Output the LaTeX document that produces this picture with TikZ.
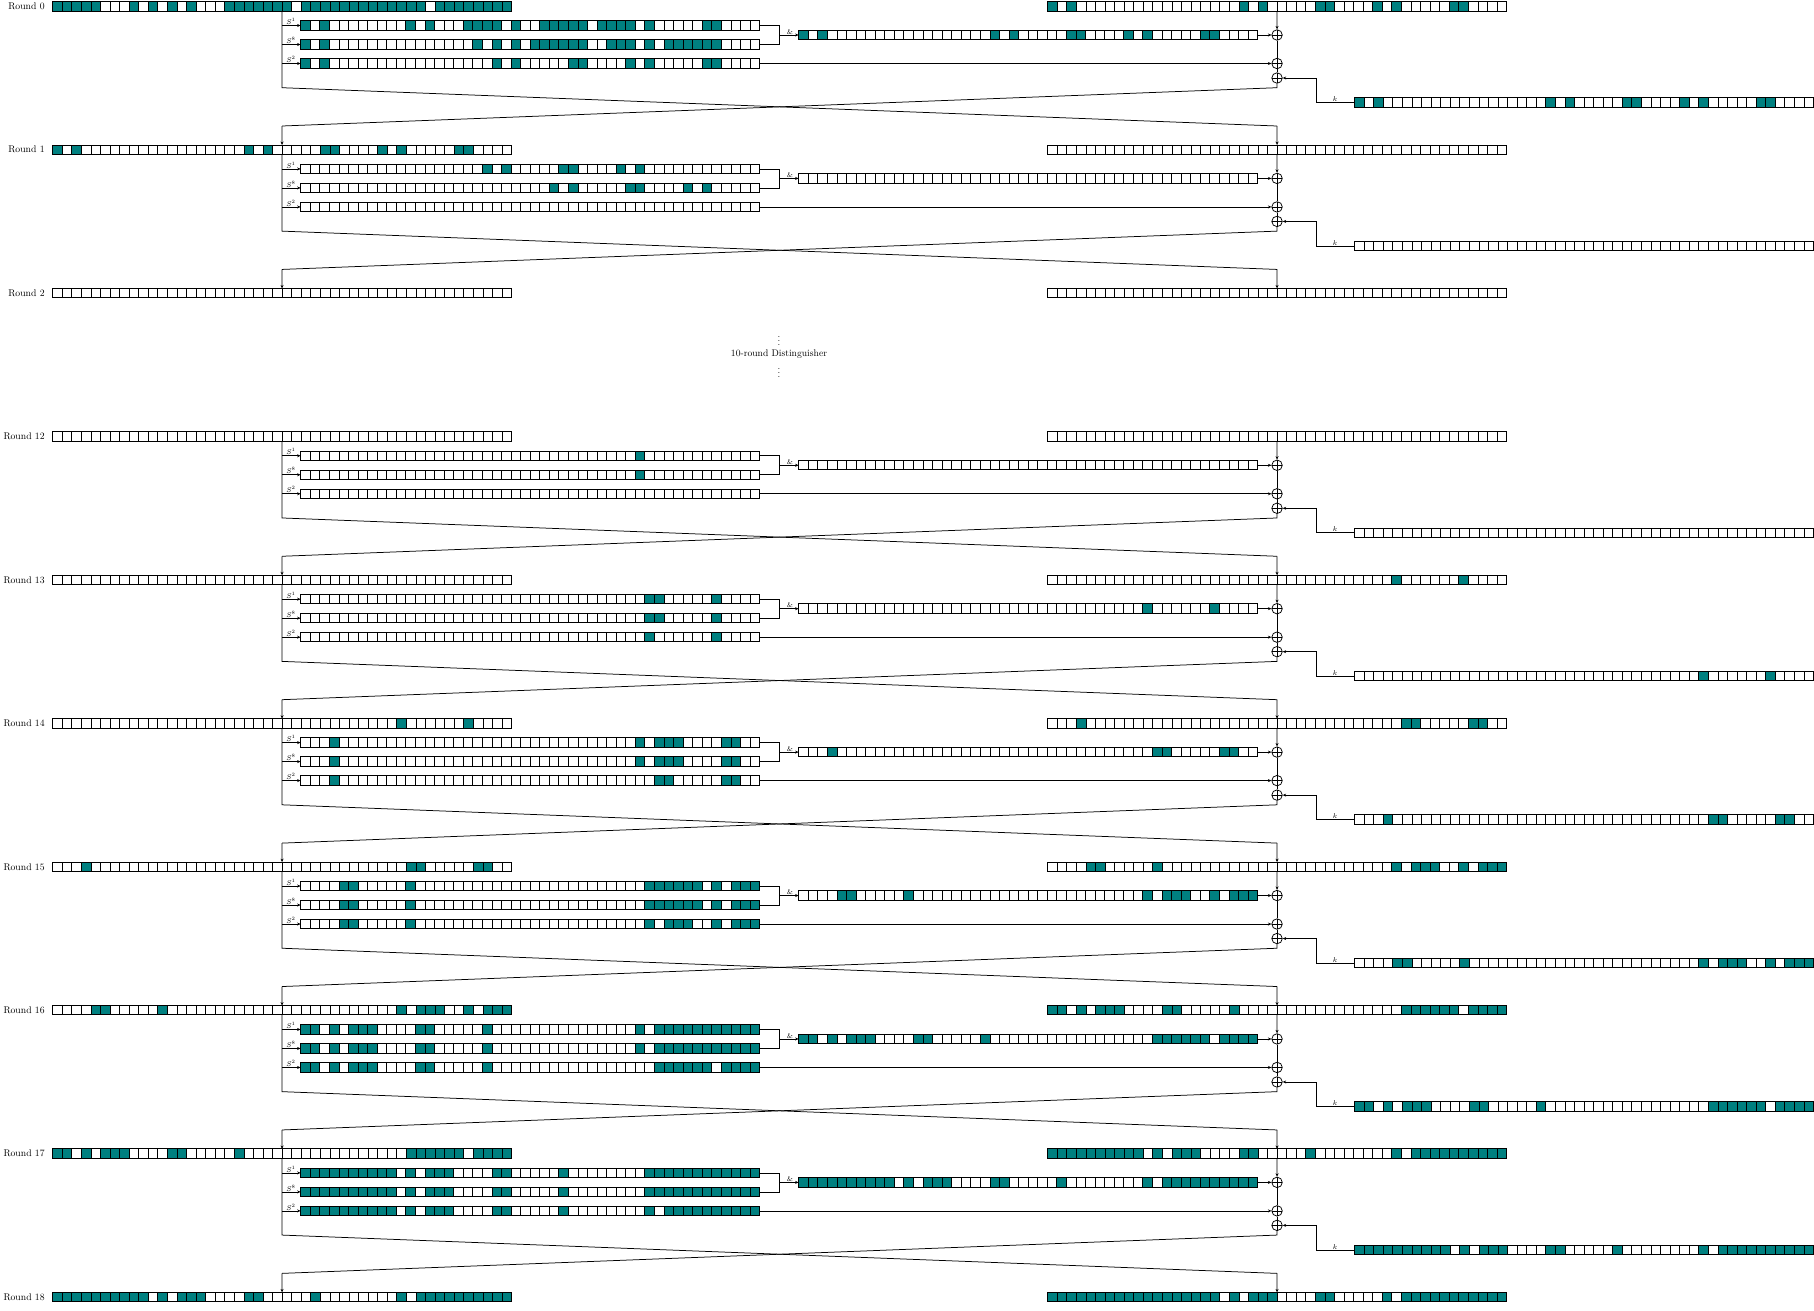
\documentclass[tikz,border=0pt]{standalone}
\usetikzlibrary{arrows.meta,calc}
\definecolor{cellteal}{RGB}{0,128,128}
\def\rcw{9.56}
\def\rch{9.4}
\tikzset{
  regnode/.style={minimum width=458.88pt, minimum height=9.4pt, inner sep=0pt, outer sep=0pt},
  cellsep/.style={line width=0.6pt, black},
  regborder/.style={line width=1pt, black},
  conn/.style={line width=0.75pt, black},
  arr/.style={conn, -{Stealth[length=3.5pt,width=3pt]}},
  xorc/.style={circle, draw, line width=0.75pt, minimum size=10.5pt, inner sep=0pt,
    path picture={\draw[line width=0.75pt] (path picture bounding box.north) -- (path picture bounding box.south) (path picture bounding box.west) -- (path picture bounding box.east);}},
  rlab/.style={font=\fontsize{9.7}{11}\selectfont, inner sep=0pt, anchor=east},
  slab/.style={font=\fontsize{7}{8}\selectfont, inner sep=0.6pt, anchor=south},
  midtext/.style={font=\fontsize{9.6}{11}\selectfont, inner sep=0pt},
}
% register: name, x-left, y-center, list of filled cells
\newcommand\mkreg[4]{%
  \node[regnode] (#1) at (#2+229.44,#3) {};
  \edef\rgcl{#4}%
  \ifx\rgcl\empty\else
    \foreach \i in \rgcl {\fill[cellteal] (#2+\i*\rcw,#3-4.7) rectangle ++(\rcw,\rch);}%
  \fi
  \foreach \i in {1,...,47} {\draw[cellsep] (#2+\i*\rcw,#3-4.7) -- ++(0,\rch);}%
  \draw[regborder] (#1.north west) rectangle (#1.south east);
}
% full round: idx, y0, L, R, S1, S8, S2, AND, K
\newcommand\fullround[9]{%
  \mkreg{L#1}{52.6}{#2}{#3}
  \mkreg{R#1}{1047.6}{#2}{#4}
  \mkreg{Sa#1}{300.6}{#2+19.2}{#5}
  \mkreg{Sb#1}{300.6}{#2+38.2}{#6}
  \mkreg{Sc#1}{300.6}{#2+57.2}{#7}
  \mkreg{A#1}{798.6}{#2+28.7}{#8}
  \mkreg{K#1}{1354.5}{#2+96.2}{#9}
  \node[xorc] (Xa#1) at (1277.04,#2+28.7) {};
  \node[xorc] (Xb#1) at (1277.04,#2+57.2) {};
  \node[xorc] (Xc#1) at (1277.04,#2+71.7) {};
  \coordinate (ba#1) at (282.04,#2+19.2);
  \coordinate (bb#1) at (282.04,#2+38.2);
  \coordinate (bc#1) at (282.04,#2+57.2);
  \coordinate (Lb#1) at (282.04,#2+81.4);
  \coordinate (Lt#1) at (282.04,#2+119.7);
  \coordinate (Rb#1) at (1277.04,#2+81.4);
  \coordinate (Rt#1) at (1277.04,#2+119.7);
  \coordinate (jn#1) at (779.3,#2+28.7);
  \coordinate (kc#1) at (1316,#2+96.2);
  \draw[conn] (L#1.south) -- (Lb#1) -- (Rt#1);
  \draw[conn] (Xc#1.south) -- (Rb#1) -- (Lt#1);
  \draw[arr] (ba#1) -- (Sa#1.west);
  \draw[arr] (bb#1) -- (Sb#1.west);
  \draw[arr] (bc#1) -- (Sc#1.west);
  \node[slab] (la#1) at (291,#2+19.2) {$S^1$};
  \node[slab] (lb#1) at (291,#2+38.2) {$S^8$};
  \node[slab] (lc#1) at (291,#2+57.2) {$S^2$};
  \draw[conn] (Sa#1.east) -| (jn#1);
  \draw[conn] (Sb#1.east) -| (jn#1);
  \draw[arr] (jn#1) -- (A#1.west);
  \node[slab] (lA#1) at (790,#2+28.7) {\&};
  \draw[arr] (A#1.east) -- (Xa#1.west);
  \draw[arr] (Sc#1.east) -- (Xb#1.west);
  \draw[arr] (R#1.south) -- (Xa#1.north);
  \draw[conn] (Xa#1.south) -- (Xb#1.north);
  \draw[conn] (Xb#1.south) -- (Xc#1.north);
  \draw[arr] (K#1.west) -- (kc#1) |- (Xc#1.east);
  \node[slab] (lk#1) at (1335,#2+96.2) {$k$};
}
% data
\def\lstLz{0,1,2,3,4,8,10,12,14,18,19,20,21,22,23,24,26,27,28,29,30,31,32,33,34,35,36,37,38,40,41,42,43,44,45,46,47}
\def\lstP{0,2,20,22,28,29,34,36,42,43}
\def\lstSaz{0,2,11,13,17,18,19,20,22,25,26,27,28,29,31,32,33,34,36,42,43}
\def\lstSbz{0,2,18,20,22,24,25,26,27,28,29,32,33,34,36,38,39,40,41,42,43}
\def\lstSao{19,21,27,28,33,35}
\def\lstSbo{26,28,34,35,40,42}
\def\lstAm{36,43}
\def\lstSm{36,37,43}
\def\lstAn{3,37,38,44,45}
\def\lstSn{3,35,37,38,39,44,45}
\def\lstAp{4,5,11,36,38,39,40,43,45,46,47}
\def\lstSp{4,5,11,36,37,38,39,40,41,43,45,46,47}
\def\lstAq{0,1,3,5,6,7,12,13,19,37,38,39,40,41,42,44,45,46,47}
\def\lstSq{0,1,3,5,6,7,12,13,19,35,37,38,39,40,41,42,43,44,45,46,47}
\def\lstAr{0,1,2,3,4,5,6,7,8,9,11,13,14,15,20,21,27,36,38,39,40,41,42,43,44,45,46,47}
\def\lstSr{0,1,2,3,4,5,6,7,8,9,11,13,14,15,20,21,27,36,37,38,39,40,41,42,43,44,45,46,47}
\def\lstRs{0,1,2,3,4,5,6,7,8,9,10,11,12,13,14,15,16,17,19,21,22,23,28,29,35,37,38,39,40,41,42,43,44,45,46,47}
\begin{document}
\begin{tikzpicture}[x=1pt,y=-1pt]
\useasboundingbox (0,0) rectangle (1814,1310);
% rounds
\fullround{0}{6.3}{\lstLz}{\lstP}{\lstSaz}{\lstSbz}{\lstP}{\lstP}{\lstP}
\fullround{1}{149.72}{\lstP}{}{\lstSao}{\lstSbo}{}{}{}
\mkreg{L2}{52.6}{293.14}{}
\mkreg{R2}{1047.6}{293.14}{}
\fullround{12}{436.56}{}{}{35}{35}{}{}{}
\fullround{13}{579.98}{}{\lstAm}{\lstSm}{\lstSm}{\lstAm}{\lstAm}{\lstAm}
\fullround{14}{723.4}{\lstAm}{\lstAn}{\lstSn}{\lstSn}{\lstAn}{\lstAn}{\lstAn}
\fullround{15}{866.82}{\lstAn}{\lstAp}{\lstSp}{\lstSp}{\lstAp}{\lstAp}{\lstAp}
\fullround{16}{1010.24}{\lstAp}{\lstAq}{\lstSq}{\lstSq}{\lstAq}{\lstAq}{\lstAq}
\fullround{17}{1153.66}{\lstAq}{\lstAr}{\lstSr}{\lstSr}{\lstAr}{\lstAr}{\lstAr}
\mkreg{L18}{52.6}{1297.08}{\lstAr}
\mkreg{R18}{1047.6}{1297.08}{\lstRs}
% incoming arrows
\draw[arr] (Lt0) -- (L1.north);
\draw[arr] (Rt0) -- (R1.north);
\draw[arr] (Lt1) -- (L2.north);
\draw[arr] (Rt1) -- (R2.north);
\foreach \a/\b in {12/13,13/14,14/15,15/16,16/17,17/18} {
  \draw[arr] (Lt\a) -- (L\b.north);
  \draw[arr] (Rt\a) -- (R\b.north);
}
% round labels
\node[rlab] (rl0) at (44.8,6.3) {Round 0};
\node[rlab] (rl1) at (44.8,149.72) {Round 1};
\node[rlab] (rl2) at (44.8,293.14) {Round 2};
\node[rlab] (rl12) at (44.8,436.56) {Round 12};
\node[rlab] (rl13) at (44.8,579.98) {Round 13};
\node[rlab] (rl14) at (44.8,723.4) {Round 14};
\node[rlab] (rl15) at (44.8,866.82) {Round 15};
\node[rlab] (rl16) at (44.8,1010.24) {Round 16};
\node[rlab] (rl17) at (44.8,1153.66) {Round 17};
\node[rlab] (rl18) at (44.8,1297.08) {Round 18};
% distinguisher
\node[midtext] (dist) at (779,354) {10-round Distinguisher};
\node[midtext] (vdu) at (779,338) {$\vdots$};
\node[midtext] (vdd) at (779,370) {$\vdots$};
\end{tikzpicture}
\end{document}
